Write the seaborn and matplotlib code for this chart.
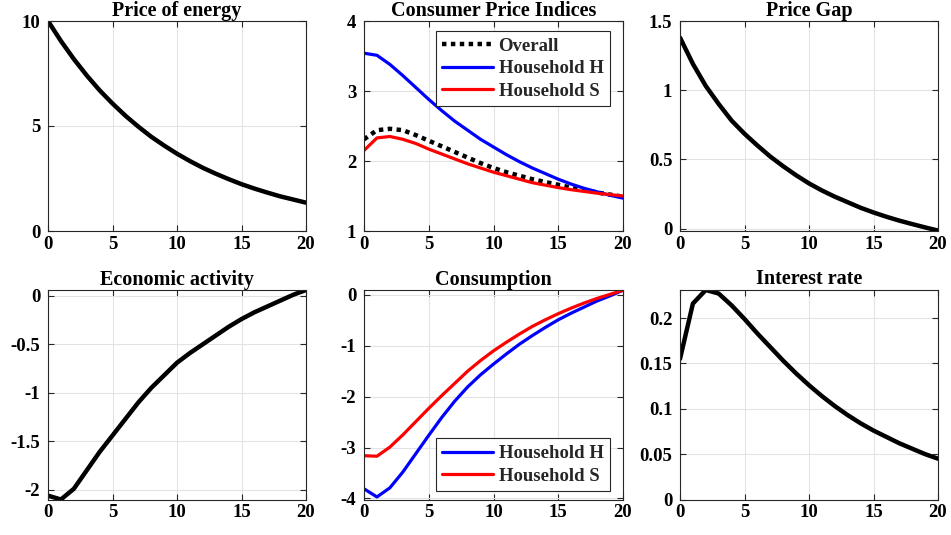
import numpy as np
import pandas as pd
import matplotlib
matplotlib.use("Agg")
import matplotlib.pyplot as plt
import seaborn as sns

# ---------------- data ----------------
periods = list(range(21))

price_energy = [10.0, 9.05, 8.19, 7.41, 6.70, 6.07, 5.49, 4.97, 4.49, 4.07, 3.68,
                3.33, 3.01, 2.73, 2.47, 2.23, 2.02, 1.83, 1.65, 1.50, 1.35]

cpi_overall = [2.31, 2.44, 2.46, 2.44, 2.37, 2.29, 2.21, 2.13, 2.05, 1.97, 1.90,
               1.84, 1.79, 1.74, 1.70, 1.66, 1.62, 1.59, 1.55, 1.52, 1.49]
cpi_h = [3.54, 3.51, 3.38, 3.22, 3.05, 2.88, 2.72, 2.57, 2.44, 2.31, 2.20,
         2.09, 1.99, 1.90, 1.82, 1.74, 1.67, 1.61, 1.56, 1.51, 1.47]
cpi_s = [2.15, 2.33, 2.35, 2.31, 2.25, 2.17, 2.10, 2.03, 1.96, 1.90, 1.84,
         1.79, 1.74, 1.69, 1.655, 1.62, 1.59, 1.565, 1.54, 1.52, 1.50]

price_gap = [1.38, 1.19, 1.03, 0.90, 0.78, 0.685, 0.60, 0.52, 0.45, 0.385, 0.326,
             0.275, 0.23, 0.19, 0.15, 0.116, 0.085, 0.057, 0.032, 0.008, -0.015]

activity = [-2.06, -2.10, -1.99, -1.80, -1.61, -1.44, -1.27, -1.10, -0.95, -0.82, -0.69,
            -0.59, -0.50, -0.41, -0.32, -0.24, -0.17, -0.11, -0.05, 0.01, 0.06]

cons_h = [-3.81, -3.97, -3.79, -3.48, -3.12, -2.76, -2.41, -2.09, -1.81, -1.57, -1.36,
          -1.16, -0.97, -0.80, -0.64, -0.49, -0.36, -0.24, -0.12, -0.02, 0.09]
cons_s = [-3.16, -3.17, -2.99, -2.75, -2.49, -2.23, -1.98, -1.74, -1.50, -1.29, -1.10,
          -0.93, -0.77, -0.62, -0.49, -0.37, -0.26, -0.16, -0.07, 0.01, 0.09]

interest = [0.155, 0.216, 0.231, 0.227, 0.214, 0.199, 0.183, 0.168, 0.153, 0.139, 0.126,
            0.114, 0.103, 0.093, 0.084, 0.076, 0.069, 0.062, 0.056, 0.050, 0.045]

titles = ["Price of energy", "Consumer Price Indices", "Price Gap",
          "Economic activity", "Consumption", "Interest rate"]
x_ticks = [0, 5, 10, 15, 20]
y_ticks = [[0, 5, 10], [1, 2, 3, 4], [0, 0.5, 1, 1.5],
           [-2, -1.5, -1, -0.5, 0], [-4, -3, -2, -1, 0],
           [0, 0.05, 0.1, 0.15, 0.2]]
y_ticklabels = [["0", "5", "10"], ["1", "2", "3", "4"], ["0", "0.5", "1", "1.5"],
                ["-2", "-1.5", "-1", "-0.5", "0"], ["-4", "-3", "-2", "-1", "0"],
                ["0", "0.05", "0.1", "0.15", "0.2"]]
y_limits = [(0, 10), (1, 4), (-0.018, 1.5), (-2.10, 0.065), (-4.02, 0.105), (0, 0.2315)]

# ---------------- style ----------------
sns.set_theme(style="whitegrid")
plt.rcParams["font.family"] = ["Liberation Serif", "DejaVu Serif"]
plt.rcParams["font.weight"] = "bold"
plt.rcParams["axes.unicode_minus"] = False

fig = plt.figure(figsize=(9.51, 5.35), dpi=100)
W, H = 951, 535
cols = [(48, 306), (364, 623), (680, 938)]
rows = [(21, 231), (289.5, 499.5)]
axes = []
for r in rows:
    for c in cols:
        ax = fig.add_axes([c[0] / W, 1 - r[1] / H, (c[1] - c[0]) / W, (r[1] - r[0]) / H])
        axes.append(ax)

black_lw = 3.2
col_lw = 2.3

sns.lineplot(x=periods, y=price_energy, ax=axes[0], color="black", lw=black_lw)
sns.lineplot(x=periods, y=cpi_overall, ax=axes[1], color="black", lw=black_lw,
             linestyle=(0, (1, 1)), label="Overall")
sns.lineplot(x=periods, y=cpi_h, ax=axes[1], color="#0000ff", lw=col_lw, label="Household H")
sns.lineplot(x=periods, y=cpi_s, ax=axes[1], color="#ff0000", lw=col_lw, label="Household S")
sns.lineplot(x=periods, y=price_gap, ax=axes[2], color="black", lw=black_lw)
sns.lineplot(x=periods, y=activity, ax=axes[3], color="black", lw=black_lw)
sns.lineplot(x=periods, y=cons_h, ax=axes[4], color="#0000ff", lw=col_lw, label="Household H")
sns.lineplot(x=periods, y=cons_s, ax=axes[4], color="#ff0000", lw=col_lw, label="Household S")
sns.lineplot(x=periods, y=interest, ax=axes[5], color="black", lw=black_lw)

for i, ax in enumerate(axes):
    ax.set_xlim(0, 20)
    ax.set_ylim(*y_limits[i])
    ax.set_xticks(x_ticks)
    ax.set_xticklabels([str(v) for v in x_ticks])
    ax.set_yticks(y_ticks[i])
    ax.set_yticklabels(y_ticklabels[i])
    ax.set_title(titles[i], fontsize=14.5, fontweight="bold", pad=3, color="black")
    ax.set_xlabel("")
    ax.set_ylabel("")
    ax.set_facecolor("white")
    ax.grid(True, color="#e3e3e3", lw=0.8)
    for s in ax.spines.values():
        s.set_visible(True)
        s.set_color("#262626")
        s.set_linewidth(0.8)
    ax.tick_params(axis="both", which="both", direction="in", length=4, width=0.8,
                   top=True, right=True, bottom=True, left=True,
                   labelsize=13.5, colors="#262626", labelcolor="black")
    ax.tick_params(axis="x", pad=3.5)
    ax.tick_params(axis="y", pad=5.5)
    for lab in ax.get_xticklabels() + ax.get_yticklabels():
        lab.set_fontweight("bold")

leg_kw = dict(frameon=True, fancybox=False, framealpha=1, edgecolor="#262626",
              prop={"family": ["Liberation Serif"], "weight": "bold", "size": 13.5},
              handlelength=2.7, borderpad=0.35, labelspacing=0.28, handletextpad=0.3,
              borderaxespad=0.0)
l1 = axes[1].legend(loc="upper right", bbox_to_anchor=(0.950, 0.952), **leg_kw)
l1.get_frame().set_linewidth(0.8)
l2 = axes[4].legend(loc="lower right", bbox_to_anchor=(0.950, 0.040), **leg_kw)
l2.get_frame().set_linewidth(0.8)

fig.savefig("out.png", dpi=100)
